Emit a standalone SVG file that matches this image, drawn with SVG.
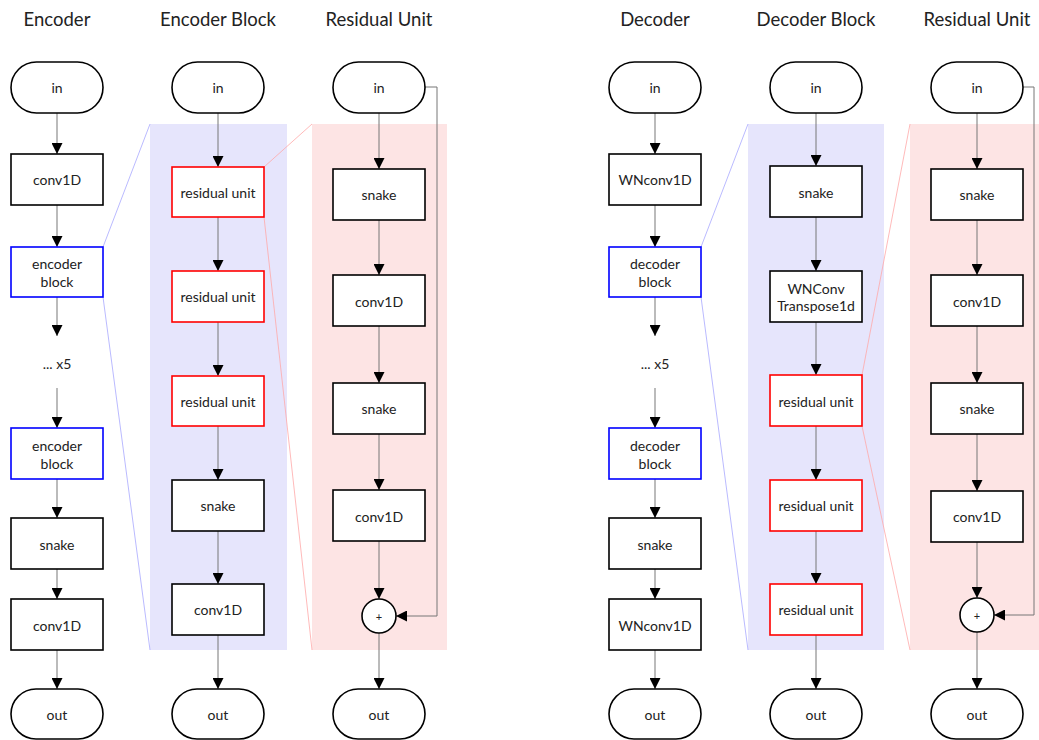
<svg xmlns="http://www.w3.org/2000/svg" width="1039" height="740" viewBox="0 0 1039 740">
<style>
text{font-family:Lato,"Liberation Sans",sans-serif;fill:#222;text-anchor:middle;dominant-baseline:central}
.t{font-size:18.5px}
.l{font-size:14px}
.p{font-size:11px}
.term{fill:#fff;stroke:#000;stroke-width:1.6}
.box{fill:#fff;stroke:#000;stroke-width:1.6}
.red{fill:#fff;stroke:#f00;stroke-width:1.6}
.blue{fill:#fff;stroke:#00f;stroke-width:1.6}
.c1{stroke:#aaa;stroke-width:1.6;fill:none}
.c2{stroke:#777;stroke-width:1;fill:none}
.zb{stroke:#a8a8ff;stroke-width:0.8;fill:none}
.zr{stroke:#ffa8a8;stroke-width:0.8;fill:none}
</style>
<defs>
<marker id="ah" viewBox="0 0 10 10" refX="10" refY="5" markerWidth="11" markerHeight="11" markerUnits="userSpaceOnUse" orient="auto">
<path d="M0,0 L10,5 L0,10 z" fill="#000"/>
</marker>
</defs>
<g id="backgrounds">
<rect x="150" y="124" width="137" height="526" fill="#e6e5fc"/>
<rect x="312" y="124" width="135" height="526" fill="#fde4e4"/>
<rect x="748" y="124" width="136" height="526" fill="#e6e5fc"/>
<rect x="910" y="124" width="129" height="526" fill="#fde4e4"/>
</g>
<g id="titles">
<text class="t" x="57" y="19">Encoder</text>
<text class="t" x="218" y="19">Encoder Block</text>
<text class="t" x="379" y="19">Residual Unit</text>
<text class="t" x="655" y="19">Decoder</text>
<text class="t" x="816" y="19">Decoder Block</text>
<text class="t" x="977" y="19">Residual Unit</text>
</g>
<g id="connectors">
<g class="zb">
<line x1="103" y1="247" x2="150" y2="124"/><line x1="103" y1="297" x2="150" y2="650"/>
<line x1="701" y1="247" x2="748" y2="124"/><line x1="701" y1="297" x2="748" y2="650"/>
</g>
<g class="zr">
<line x1="264" y1="167" x2="312" y2="124"/><line x1="264" y1="217" x2="312" y2="650"/>
<line x1="862" y1="375" x2="910" y2="124"/><line x1="862" y1="426" x2="910" y2="650"/>
</g>
<g class="c1" marker-end="url(#ah)">
<line x1="57" y1="113" x2="57" y2="154"/><line x1="57" y1="205" x2="57" y2="247"/>
<line x1="57" y1="297" x2="57" y2="336"/><line x1="57" y1="388" x2="57" y2="428"/>
<line x1="57" y1="479" x2="57" y2="518"/><line x1="57" y1="569" x2="57" y2="599"/>
<line x1="57" y1="650" x2="57" y2="689"/>
<line x1="655" y1="113" x2="655" y2="154"/><line x1="655" y1="205" x2="655" y2="247"/>
<line x1="655" y1="297" x2="655" y2="336"/><line x1="655" y1="388" x2="655" y2="428"/>
<line x1="655" y1="479" x2="655" y2="518"/><line x1="655" y1="569" x2="655" y2="599"/>
<line x1="655" y1="650" x2="655" y2="689"/>
</g>
<g class="c2" marker-end="url(#ah)">
<line x1="218" y1="113" x2="218" y2="167"/><line x1="218" y1="217" x2="218" y2="271"/>
<line x1="218" y1="322" x2="218" y2="376"/><line x1="218" y1="426" x2="218" y2="480"/>
<line x1="218" y1="531" x2="218" y2="584"/><line x1="218" y1="635" x2="218" y2="689"/>
<line x1="816" y1="113" x2="816" y2="166"/><line x1="816" y1="217" x2="816" y2="271"/>
<line x1="816" y1="322" x2="816" y2="375"/><line x1="816" y1="426" x2="816" y2="480"/>
<line x1="816" y1="531" x2="816" y2="584"/><line x1="816" y1="635" x2="816" y2="689"/>
<line x1="379" y1="113" x2="379" y2="169"/><line x1="379" y1="220" x2="379" y2="275"/>
<line x1="379" y1="326" x2="379" y2="383"/><line x1="379" y1="434" x2="379" y2="490"/>
<line x1="379" y1="541" x2="379" y2="599"/><line x1="379" y1="633" x2="379" y2="689"/>
<polyline points="425,87 437,87 437,616 396,616"/>
<line x1="977" y1="113" x2="977" y2="169"/><line x1="977" y1="220" x2="977" y2="275"/>
<line x1="977" y1="326" x2="977" y2="383"/><line x1="977" y1="434" x2="977" y2="491"/>
<line x1="977" y1="542" x2="977" y2="598"/><line x1="977" y1="632" x2="977" y2="689"/>
<polyline points="1023,87 1034,87 1034,615 994,615"/>
</g>
</g>
<g id="enc-in"><rect class="term" x="11" y="62" width="92" height="51" rx="25.5"/><text class="l" x="57" y="87">in</text></g>
<g id="enc-conv1"><rect class="box" x="11" y="154" width="92" height="51"/><text class="l" x="57" y="179">conv1D</text></g>
<g id="enc-block1"><rect class="blue" x="11" y="247" width="92" height="50"/><text class="l" x="57" y="263">encoder</text><text class="l" x="57" y="281">block</text></g>
<g id="enc-x5"><text class="l" x="57" y="363">... x5</text></g>
<g id="enc-block2"><rect class="blue" x="11" y="428" width="92" height="51"/><text class="l" x="57" y="445">encoder</text><text class="l" x="57" y="463">block</text></g>
<g id="enc-snake"><rect class="box" x="11" y="518" width="92" height="51"/><text class="l" x="57" y="544">snake</text></g>
<g id="enc-conv2"><rect class="box" x="11" y="599" width="92" height="51"/><text class="l" x="57" y="625">conv1D</text></g>
<g id="enc-out"><rect class="term" x="11" y="689" width="92" height="50" rx="25"/><text class="l" x="57" y="714">out</text></g>

<g id="eb-in"><rect class="term" x="172" y="62" width="92" height="51" rx="25.5"/><text class="l" x="218" y="87">in</text></g>
<g id="eb-ru1"><rect class="red" x="172" y="167" width="92" height="50"/><text class="l" x="218" y="192">residual unit</text></g>
<g id="eb-ru2"><rect class="red" x="172" y="271" width="92" height="51"/><text class="l" x="218" y="296">residual unit</text></g>
<g id="eb-ru3"><rect class="red" x="172" y="376" width="92" height="50"/><text class="l" x="218" y="401">residual unit</text></g>
<g id="eb-snake"><rect class="box" x="172" y="480" width="92" height="51"/><text class="l" x="218" y="505">snake</text></g>
<g id="eb-conv"><rect class="box" x="172" y="584" width="92" height="51"/><text class="l" x="218" y="609">conv1D</text></g>
<g id="eb-out"><rect class="term" x="172" y="689" width="92" height="50" rx="25"/><text class="l" x="218" y="714">out</text></g>

<g id="ru-in"><rect class="term" x="333" y="62" width="92" height="51" rx="25.5"/><text class="l" x="379" y="87">in</text></g>
<g id="ru-snake1"><rect class="box" x="333" y="169" width="92" height="51"/><text class="l" x="379" y="194">snake</text></g>
<g id="ru-conv1"><rect class="box" x="333" y="275" width="92" height="51"/><text class="l" x="379" y="301">conv1D</text></g>
<g id="ru-snake2"><rect class="box" x="333" y="383" width="92" height="51"/><text class="l" x="379" y="408">snake</text></g>
<g id="ru-conv2"><rect class="box" x="333" y="490" width="92" height="51"/><text class="l" x="379" y="516">conv1D</text></g>
<g id="ru-add"><circle class="box" cx="379" cy="616" r="17"/><text class="p" x="379" y="616">+</text></g>
<g id="ru-out"><rect class="term" x="333" y="689" width="92" height="50" rx="25"/><text class="l" x="379" y="714">out</text></g>

<g id="dec-in"><rect class="term" x="609" y="62" width="92" height="51" rx="25.5"/><text class="l" x="655" y="87">in</text></g>
<g id="dec-conv1"><rect class="box" x="609" y="154" width="92" height="51"/><text class="l" x="655" y="179">WNconv1D</text></g>
<g id="dec-block1"><rect class="blue" x="609" y="247" width="92" height="50"/><text class="l" x="655" y="263">decoder</text><text class="l" x="655" y="281">block</text></g>
<g id="dec-x5"><text class="l" x="655" y="363">... x5</text></g>
<g id="dec-block2"><rect class="blue" x="609" y="428" width="92" height="51"/><text class="l" x="655" y="445">decoder</text><text class="l" x="655" y="463">block</text></g>
<g id="dec-snake"><rect class="box" x="609" y="518" width="92" height="51"/><text class="l" x="655" y="544">snake</text></g>
<g id="dec-conv2"><rect class="box" x="609" y="599" width="92" height="51"/><text class="l" x="655" y="625">WNconv1D</text></g>
<g id="dec-out"><rect class="term" x="609" y="689" width="92" height="50" rx="25"/><text class="l" x="655" y="714">out</text></g>

<g id="db-in"><rect class="term" x="770" y="62" width="92" height="51" rx="25.5"/><text class="l" x="816" y="87">in</text></g>
<g id="db-snake"><rect class="box" x="770" y="166" width="92" height="51"/><text class="l" x="816" y="192">snake</text></g>
<g id="db-tconv"><rect class="box" x="770" y="271" width="92" height="51"/><text class="l" x="816" y="288">WNConv</text><text class="l" x="816" y="305">Transpose1d</text></g>
<g id="db-ru1"><rect class="red" x="770" y="375" width="92" height="51"/><text class="l" x="816" y="401">residual unit</text></g>
<g id="db-ru2"><rect class="red" x="770" y="480" width="92" height="51"/><text class="l" x="816" y="505">residual unit</text></g>
<g id="db-ru3"><rect class="red" x="770" y="584" width="92" height="51"/><text class="l" x="816" y="609">residual unit</text></g>
<g id="db-out"><rect class="term" x="770" y="689" width="92" height="50" rx="25"/><text class="l" x="816" y="714">out</text></g>

<g id="ru2-in"><rect class="term" x="931" y="62" width="92" height="51" rx="25.5"/><text class="l" x="977" y="87">in</text></g>
<g id="ru2-snake1"><rect class="box" x="931" y="169" width="92" height="51"/><text class="l" x="977" y="194">snake</text></g>
<g id="ru2-conv1"><rect class="box" x="931" y="275" width="92" height="51"/><text class="l" x="977" y="301">conv1D</text></g>
<g id="ru2-snake2"><rect class="box" x="931" y="383" width="92" height="51"/><text class="l" x="977" y="408">snake</text></g>
<g id="ru2-conv2"><rect class="box" x="931" y="491" width="92" height="51"/><text class="l" x="977" y="516">conv1D</text></g>
<g id="ru2-add"><circle class="box" cx="977" cy="615" r="17"/><text class="p" x="977" y="615">+</text></g>
<g id="ru2-out"><rect class="term" x="931" y="689" width="92" height="50" rx="25"/><text class="l" x="977" y="714">out</text></g>
</svg>
